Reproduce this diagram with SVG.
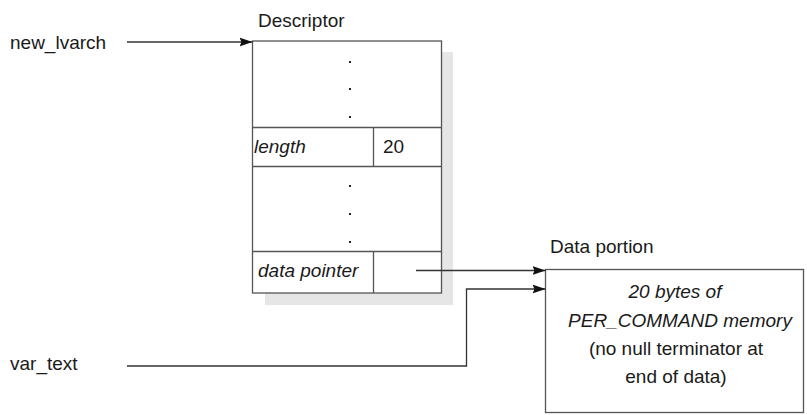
<svg xmlns="http://www.w3.org/2000/svg" width="807" height="415" viewBox="0 0 807 415">
<style>
text{font-family:"Liberation Sans",Arial,sans-serif;font-size:19px;fill:#1a1a1a}
.it{font-style:italic}
.box{fill:#fff;stroke:#555;stroke-width:1.3}
.div{stroke:#555;stroke-width:1.3;fill:none}
.shadow{fill:#e6e6e6}
.conn{stroke:#333;stroke-width:1.3;fill:none;marker-end:url(#ah)}
.dot{fill:#222}
</style>
<defs>
<marker id="ah" markerWidth="13" markerHeight="10" refX="13" refY="5" orient="auto" markerUnits="userSpaceOnUse">
<path d="M0,0.5 L13,5 L0,9.5 L2,5 Z" fill="#111"/>
</marker>
</defs>
<g id="descriptor">
<rect class="shadow" x="265" y="52" width="188" height="253"/>
<rect class="box" x="252.5" y="41" width="189" height="252"/>
<line class="div" x1="252.5" y1="127.5" x2="441.5" y2="127.5"/>
<line class="div" x1="252.5" y1="166.5" x2="441.5" y2="166.5"/>
<line class="div" x1="252.5" y1="251.5" x2="441.5" y2="251.5"/>
<line class="div" x1="373.5" y1="127.5" x2="373.5" y2="166.5"/>
<line class="div" x1="373.5" y1="251.5" x2="373.5" y2="293"/>
<rect class="dot" x="349" y="61" width="2" height="2"/>
<rect class="dot" x="349" y="88" width="2" height="2"/>
<rect class="dot" x="349" y="116" width="2" height="2"/>
<rect class="dot" x="349" y="185" width="2" height="2"/>
<rect class="dot" x="349" y="213" width="2" height="2"/>
<rect class="dot" x="349" y="241" width="2" height="2"/>
<text class="it" x="254" y="153">length</text>
<text x="383" y="153">20</text>
<text class="it" x="258" y="277">data pointer</text>
<text x="258" y="27">Descriptor</text>
</g>
<g id="data-portion">
<rect class="box" x="545.5" y="269.5" width="258" height="143"/>
<text x="550" y="253">Data portion</text>
<text class="it" x="675" y="298" text-anchor="middle">20 bytes of</text>
<text class="it" x="680" y="327" text-anchor="middle">PER_COMMAND memory</text>
<text x="676" y="355" text-anchor="middle">(no null terminator at</text>
<text x="676" y="383" text-anchor="middle">end of data)</text>
</g>
<g id="new_lvarch">
<text x="10" y="49">new_lvarch</text>
</g>
<g id="var_text">
<text x="10" y="370">var_text</text>
</g>
<g id="connectors">
<line class="conn" x1="127" y1="42" x2="252.5" y2="42"/>
<line class="conn" x1="416" y1="270.5" x2="545.5" y2="270.5"/>
<polyline class="conn" points="127,366 466.5,366 466.5,289 545.5,289"/>
</g>
</svg>
